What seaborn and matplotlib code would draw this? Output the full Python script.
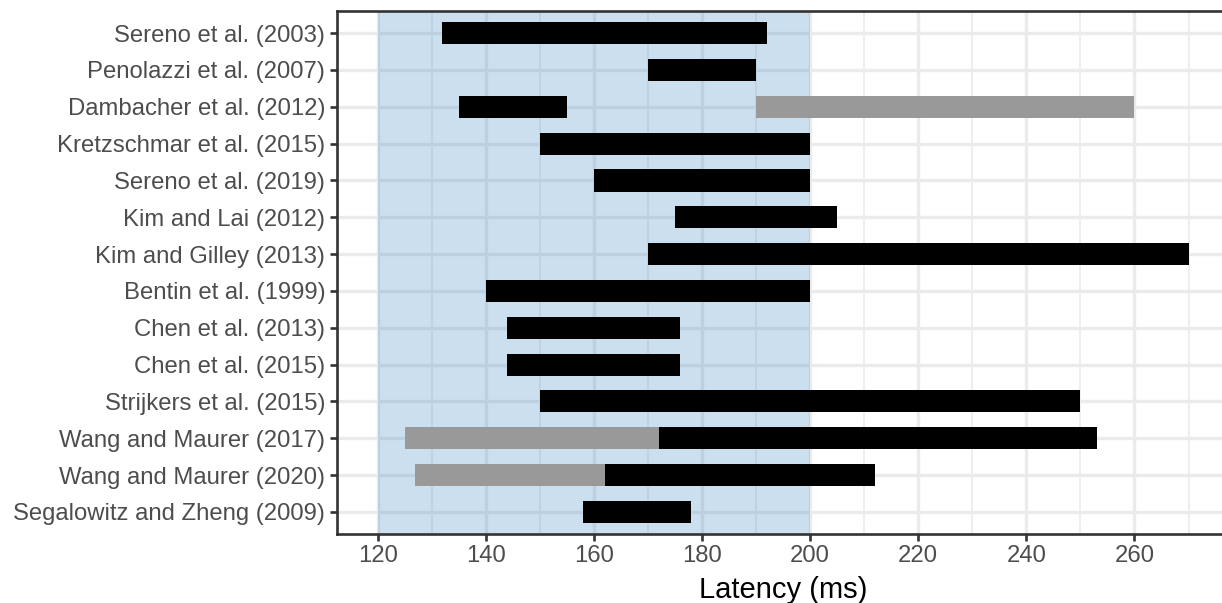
import pandas as pd
import matplotlib
matplotlib.use('Agg')
import matplotlib.pyplot as plt
import seaborn as sns

# Études (de haut en bas)
studies = [
    'Sereno et al. (2003)', 'Penolazzi et al. (2007)', 'Dambacher et al. (2012)',
    'Kretzschmar et al. (2015)', 'Sereno et al. (2019)', 'Kim and Lai (2012)',
    'Kim and Gilley (2013)', 'Bentin et al. (1999)', 'Chen et al. (2013)',
    'Chen et al. (2015)', 'Strijkers et al. (2015)', 'Wang and Maurer (2017)',
    'Wang and Maurer (2020)', 'Segalowitz and Zheng (2009)',
]
black_start = [132, 170, 135, 150, 160, 175, 170, 140, 144, 144, 150, 172, 162, 158]
black_end = [192, 190, 155, 200, 200, 205, 270, 200, 176, 176, 250, 253, 212, 178]

# Segments gris
gray_studies = ['Dambacher et al. (2012)', 'Wang and Maurer (2017)', 'Wang and Maurer (2020)']
gray_start = [190, 125, 127]
gray_end = [260, 172, 162]

window = (120, 200)
xticks = [120, 140, 160, 180, 200, 220, 240, 260]

sns.set_theme(style='whitegrid')
plt.rcParams['font.family'] = ['Liberation Sans', 'DejaVu Sans']

df_black = pd.DataFrame({'study': studies, 'start': black_start, 'end': black_end})
df_gray = pd.DataFrame({'study': gray_studies, 'start': gray_start, 'end': gray_end})
pos = {s: i for i, s in enumerate(studies)}
df_black['y'] = df_black['study'].map(pos)
df_gray['y'] = df_gray['study'].map(pos)

fig = plt.figure(figsize=(12.22, 6.03), dpi=100)
ax = fig.add_axes([0.2758, 0.1144, 0.730, 0.8673])
ax.set_facecolor('white')

# Grille
ax.set_axisbelow(True)
ax.set_xticks(xticks)
ax.set_xticks([130, 150, 170, 190, 210, 230, 250, 270], minor=True)
ax.grid(True, which='major', axis='both', color='#EBEBEB', linewidth=2.4)
ax.grid(True, which='minor', axis='x', color='#EBEBEB', linewidth=1.2)

# Fenêtre 120-200 ms
ax.axvspan(window[0], window[1], color='#3182bd', alpha=0.25, linewidth=0, zorder=0.6)

# Barres
ax.barh(df_gray['y'], df_gray['end'] - df_gray['start'], left=df_gray['start'],
        height=0.6, color='#999999', linewidth=0, zorder=2)
ax.barh(df_black['y'], df_black['end'] - df_black['start'], left=df_black['start'],
        height=0.6, color='black', linewidth=0, zorder=3)

ax.set_xlim(112.5, 277.5)
ax.set_ylim(len(studies) - 1 + 0.6, -0.6)
ax.set_yticks(range(len(studies)))
ax.set_yticklabels(studies)

for side in ['left', 'top', 'bottom']:
    ax.spines[side].set_visible(True)
    ax.spines[side].set_color('#333333')
    ax.spines[side].set_linewidth(1.9)
ax.spines['right'].set_visible(False)

ax.tick_params(axis='both', which='major', length=5, width=1.9, color='#333333',
               labelcolor='#4D4D4D', labelsize=17.2, bottom=True, left=True)
ax.tick_params(axis='x', which='major', pad=3)
ax.tick_params(axis='y', which='major', pad=3.5)
ax.tick_params(which='minor', length=0)

ax.set_xlabel('Latency (ms)', fontsize=21, color='black', labelpad=6.5)
ax.set_ylabel('')

plt.savefig('out.png', dpi=100)
